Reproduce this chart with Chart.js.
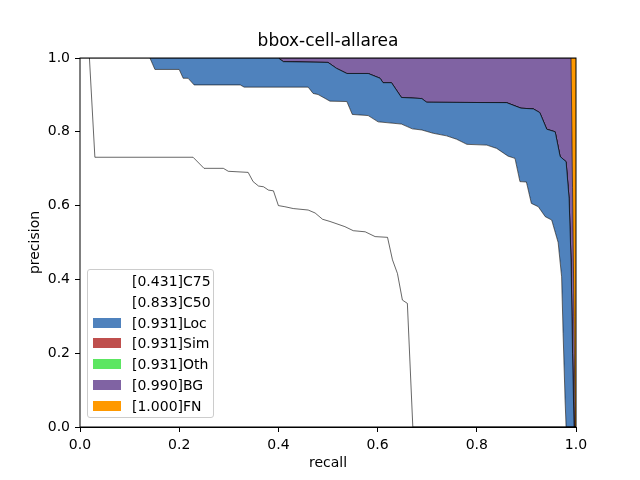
<!DOCTYPE html>
<html>
<head>
<meta charset="utf-8">
<script src="https://cdn.jsdelivr.net/npm/chart.js@4.4.1/dist/chart.umd.min.js"></script>
<style>
  body { margin: 0; background: #fff; }
  #wrap { position: relative; width: 640px; height: 480px; }
  #legend {
    position: absolute; left: 87px; top: 269px; width: 127px; height: 149px;
    border: 1px solid #cccccc; border-radius: 3px; background: rgba(255,255,255,0.8);
    font-family: "DejaVu Sans", sans-serif; font-size: 14px; color: #000;
    box-sizing: border-box; padding-top: 1px;
  }
  #legend .row { position: relative; height: 20.8px; }
  #legend .patch { position: absolute; left: 5px; top: 5px; width: 28px; height: 10px; }
  #legend .txt { position: absolute; left: 44px; top: 1px; line-height: 18px; white-space: nowrap; }
</style>
</head>
<body>
<div id="wrap">
  <canvas id="pr-chart"></canvas>
  <div id="legend"></div>
</div>
<script>
const chartTitle = "bbox-cell-allarea";
const typeNames = ["C75", "C50", "Loc", "Sim", "Oth", "BG", "FN"];
const apValues = [0.431, 0.833, 0.931, 0.931, 0.931, 0.990, 1.000];
const fillColors = [
  "rgb(255, 255, 255)",
  "rgb(255, 255, 255)",
  "rgb(79, 130, 189)",
  "rgb(191, 79, 77)",
  "rgb(92, 230, 97)",
  "rgb(128, 99, 163)",
  "rgb(255, 153, 0)"
];

// precision-recall curves
const recallC75 = [0, 0.019, 0.03, 0.228, 0.25, 0.289, 0.299, 0.339, 0.349, 0.36, 0.37, 0.38, 0.39, 0.40, 0.413,
  0.43, 0.46, 0.474, 0.489, 0.504, 0.534, 0.551, 0.575, 0.595, 0.62, 0.63, 0.64, 0.65, 0.66, 0.671, 1];
const precC75 = [1, 1, 0.731, 0.731, 0.701, 0.701, 0.693, 0.690, 0.665, 0.653, 0.651, 0.642, 0.640, 0.600, 0.597,
  0.592, 0.588, 0.580, 0.563, 0.557, 0.543, 0.532, 0.529, 0.516, 0.514, 0.453, 0.416, 0.344, 0.335, 0, 0];

const recallC50 = [0, 0.141, 0.151, 0.2, 0.208, 0.218, 0.23, 0.323, 0.331, 0.46, 0.47, 0.48, 0.504, 0.538, 0.549,
  0.581, 0.601, 0.648, 0.67, 0.689, 0.712, 0.739, 0.759, 0.78, 0.82, 0.84, 0.863, 0.877, 0.887, 0.90, 0.91,
  0.924, 0.938, 0.951, 0.964, 0.971, 0.974, 0.978, 0.98, 1];
const precC50 = [1, 1, 0.969, 0.969, 0.945, 0.945, 0.927, 0.927, 0.921, 0.921, 0.904, 0.901, 0.883, 0.882, 0.847,
  0.844, 0.827, 0.821, 0.808, 0.805, 0.796, 0.789, 0.780, 0.766, 0.764, 0.755, 0.734, 0.728, 0.665, 0.664, 0.606,
  0.597, 0.570, 0.561, 0.500, 0.407, 0.254, 0.073, 0, 0];

const recallLoc = [0, 0.40, 0.41, 0.50, 0.517, 0.538, 0.581, 0.605, 0.611, 0.628, 0.648, 0.689, 0.699, 0.86, 0.889,
  0.914, 0.927, 0.941, 0.958, 0.968, 0.98, 0.986, 0.99, 0.993, 0.996, 1];
const precLoc = [1, 1, 0.990, 0.988, 0.972, 0.958, 0.958, 0.945, 0.933, 0.933, 0.893, 0.890, 0.880, 0.879, 0.864,
  0.862, 0.852, 0.807, 0.800, 0.733, 0.719, 0.620, 0.450, 0.200, 0, 0];
const recallSim = recallLoc;
const precSim = precLoc;
const recallOth = recallLoc;
const precOth = precLoc;

const recallBG = [0, 0.99, 0.993, 0.996, 0.998, 1];
const precBG = [1, 1, 0.65, 0.3, 0, 0];

const recallFN = [0, 1];
const precFN = [1, 1];

const curves = [
  [recallC75, precC75],
  [recallC50, precC50],
  [recallLoc, precLoc],
  [recallSim, precSim],
  [recallOth, precOth],
  [recallBG, precBG],
  [recallFN, precFN]
];

const datasets = curves.map((c, i) => ({
  label: "[" + apValues[i].toFixed(3) + "]" + typeNames[i],
  data: c[0].map((r, k) => ({ x: r, y: c[1][k] })),
  borderColor: "#000",
  borderWidth: 0.6,
  backgroundColor: fillColors[i],
  pointRadius: 0,
  tension: 0,
  fill: i === 0 ? "origin" : "-1"
}));

// axes frame and a title centred over the plot area (as matplotlib does)
const frame = {
  id: "frame",
  afterDraw(chart) {
    const a = chart.chartArea;
    const ctx = chart.ctx;
    ctx.save();
    ctx.strokeStyle = "#000";
    ctx.lineWidth = 1;
    ctx.strokeRect(a.left, a.top, a.right - a.left, a.bottom - a.top);
    ctx.fillStyle = "#000";
    ctx.font = "17px 'DejaVu Sans', sans-serif";
    ctx.textAlign = "center";
    ctx.textBaseline = "middle";
    ctx.fillText(chartTitle, (a.left + a.right) / 2, 42);
    ctx.restore();
  }
};

Chart.defaults.font.family = "'DejaVu Sans', sans-serif";
Chart.defaults.color = "#000";

const chart = new Chart("pr-chart", {
  type: "line",
  data: { datasets: datasets },
  options: {
    responsive: true,
    maintainAspectRatio: false,
    animation: false,
    layout: { padding: { top: 58, right: 64, bottom: 0, left: 0 } },
    plugins: {
      legend: { display: false },
      tooltip: { enabled: false },
      title: { display: false }
    },
    scales: {
      x: {
        type: "linear",
        min: 0,
        max: 1,
        afterFit: (s) => { s.height = 53; },
        grid: { drawOnChartArea: false, tickLength: 5, tickColor: "#000" },
        border: { color: "#000" },
        ticks: { stepSize: 0.2, font: { size: 14 }, padding: 5, callback: v => v.toFixed(1) },
        title: { display: true, text: "recall", font: { size: 14 }, padding: { top: 2, bottom: 8 } }
      },
      y: {
        type: "linear",
        min: 0,
        max: 1,
        afterFit: (s) => { s.width = 80; },
        grid: { drawOnChartArea: false, tickLength: 5, tickColor: "#000" },
        border: { color: "#000" },
        ticks: { stepSize: 0.2, font: { size: 14 }, padding: 5, callback: v => v.toFixed(1) },
        title: { display: true, text: "precision", font: { size: 14 }, padding: { top: 27, bottom: 4 } }
      }
    }
  },
  plugins: [frame]
});

// legend box in the lower left, like the original
const legendEl = document.getElementById("legend");
chart.data.datasets.forEach(ds => {
  const row = document.createElement("div");
  row.className = "row";
  const patch = document.createElement("span");
  patch.className = "patch";
  patch.style.background = ds.backgroundColor;
  const txt = document.createElement("span");
  txt.className = "txt";
  txt.textContent = ds.label;
  row.appendChild(patch);
  row.appendChild(txt);
  legendEl.appendChild(row);
});
</script>
</body>
</html>
